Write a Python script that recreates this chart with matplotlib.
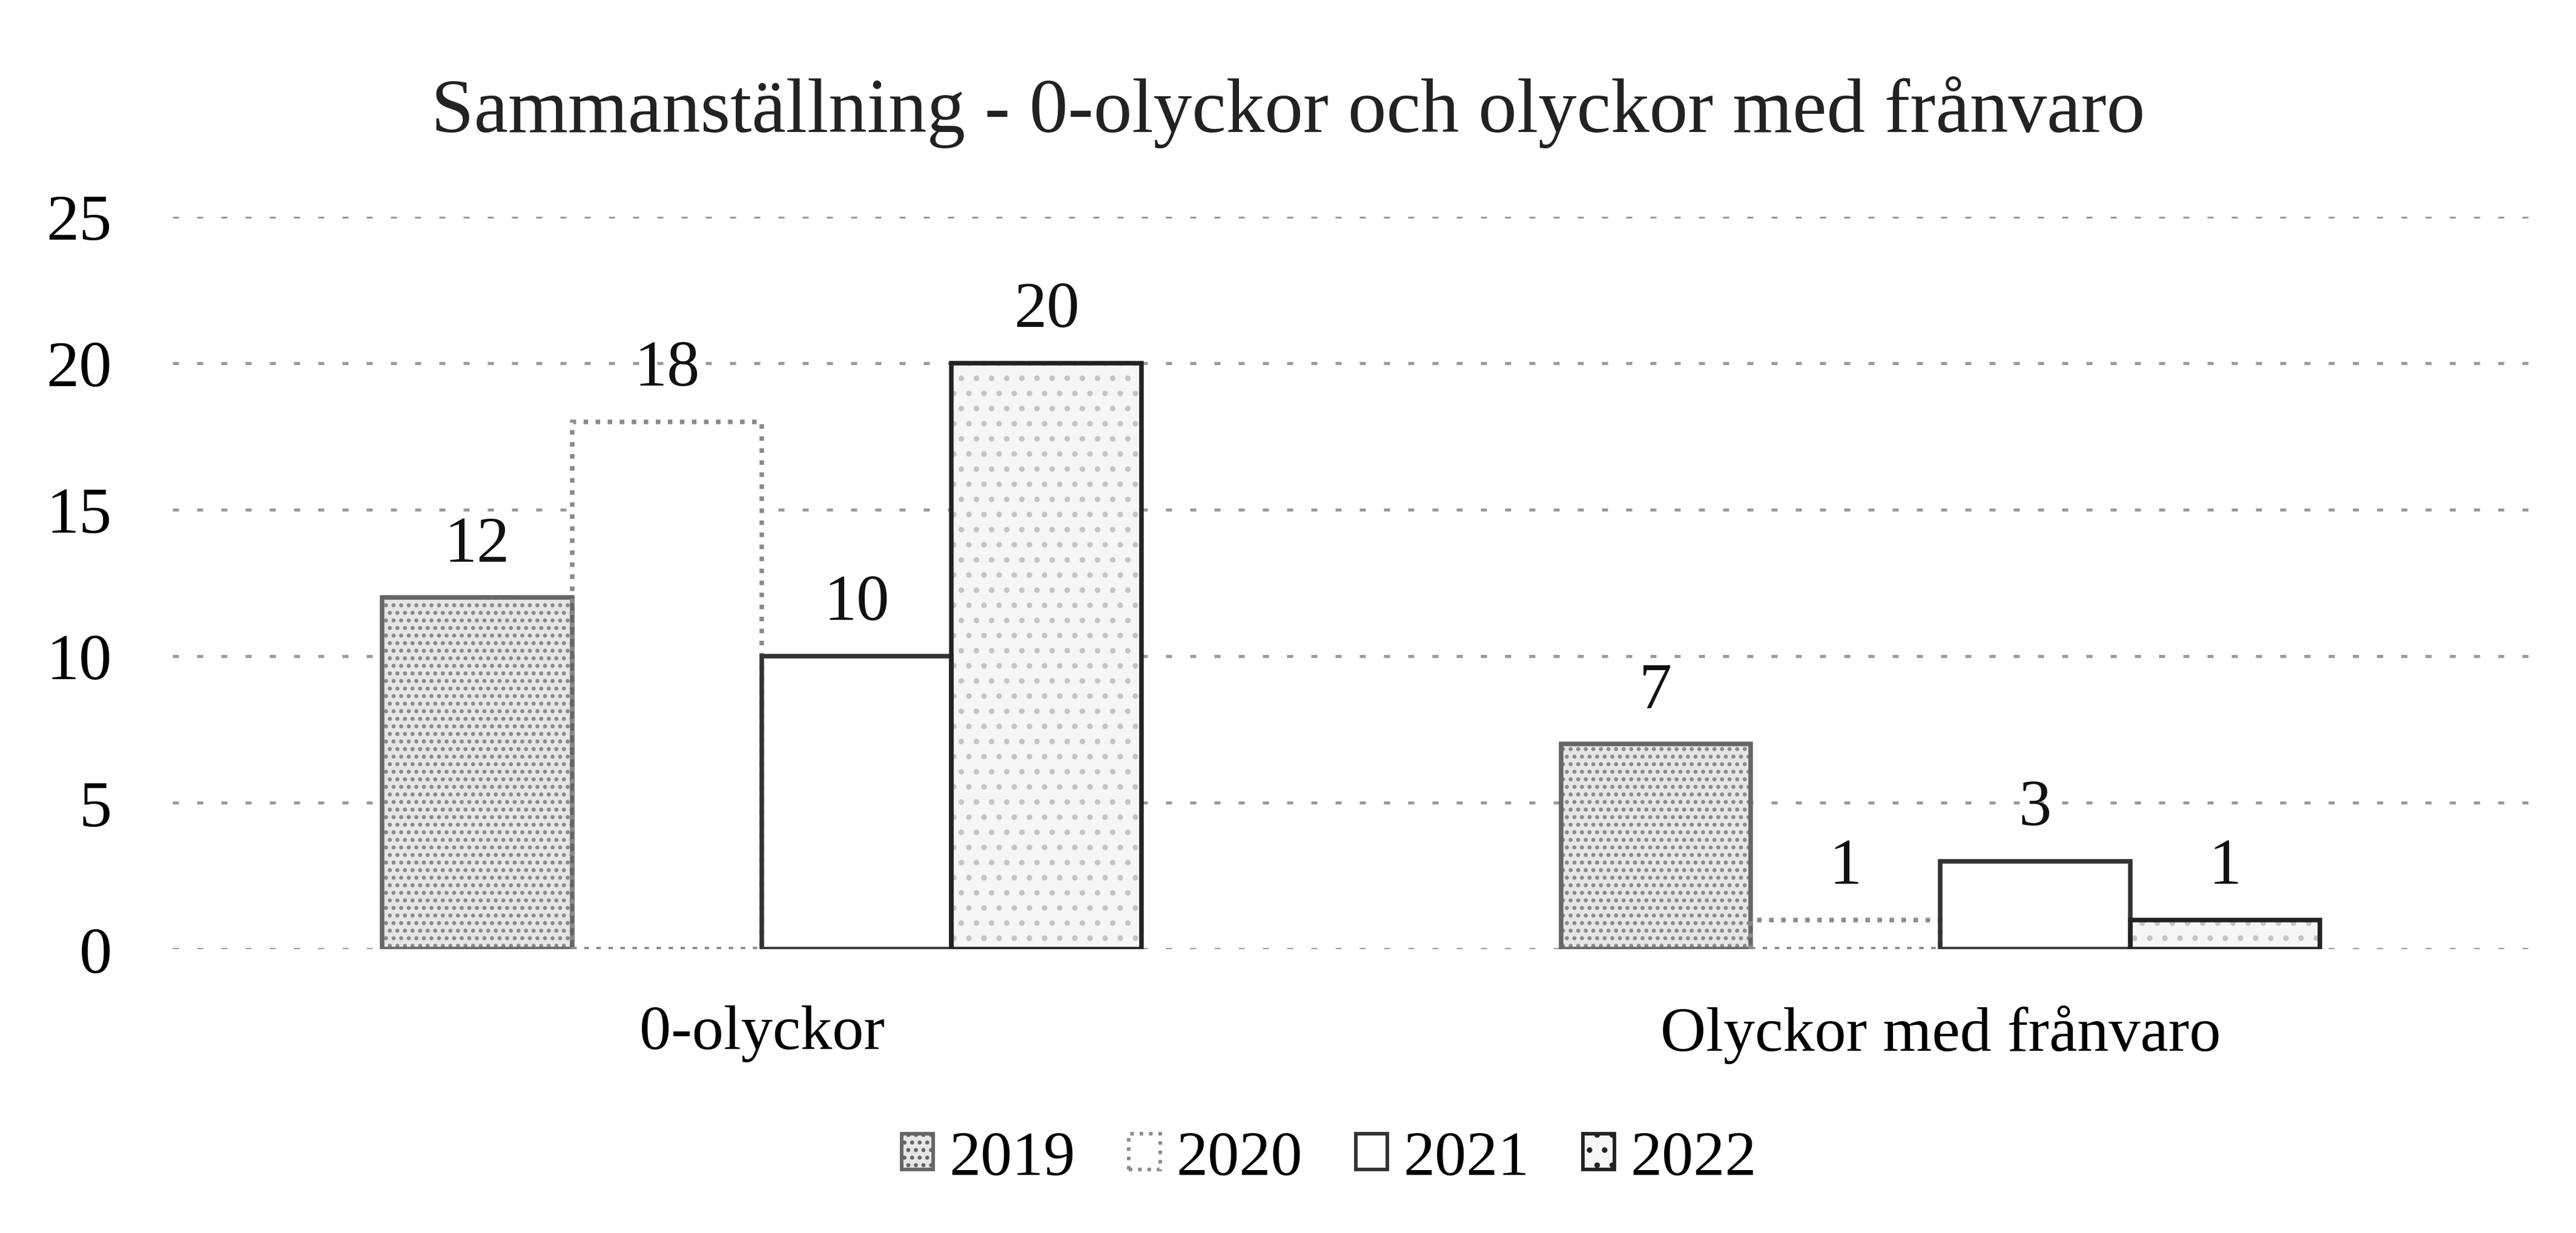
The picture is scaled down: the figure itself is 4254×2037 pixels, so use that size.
import matplotlib.pyplot as plt
import numpy as np

plt.rcParams['font.family'] = ['Liberation Serif', 'DejaVu Serif']

title = 'Sammanställning - 0-olyckor och olyckor med frånvaro'
categories = ['0-olyckor', 'Olyckor med frånvaro']
years = ['2019', '2020', '2021', '2022']
values = {
    '2019': [12, 7],
    '2020': [18, 1],
    '2021': [10, 3],
    '2022': [20, 1],
}

# look of each year (greyscale, scanned style)
faces = ['#e6e6e6', '#ffffff', '#ffffff', '#f6f6f6']
hatches = ['....', '', '', '..']
hatch_cols = ['#8a8a8a', '#ffffff', '#ffffff', '#c4c4c4']
edges = ['#666666', '#8a8a8a', '#333333', '#222222']
styles = ['-', ':', '-', '-']

fig = plt.figure(figsize=(14.18, 6.793), dpi=300)
ax = fig.add_axes([0.067, 0.230, 0.915, 0.594])

x = np.arange(len(categories))
w = 0.161
for i, yr in enumerate(years):
    pos = x + (i - 1.5) * w
    # fill with stipple first, outline on top
    ax.bar(pos, values[yr], w, color=faces[i], hatch=hatches[i],
           edgecolor=hatch_cols[i], linewidth=0, zorder=3)
    bars = ax.bar(pos, values[yr], w, fill=False, edgecolor=edges[i],
                  linewidth=1.8, linestyle=styles[i], zorder=4)
    for b, v in zip(bars, values[yr]):
        ax.annotate(str(v), (b.get_x() + b.get_width() / 2, v),
                    xytext=(0, 9), textcoords='offset points',
                    ha='center', va='bottom', fontsize=26, color='#111111')

ax.set_xlim(-0.5, 1.5)
ax.set_ylim(0, 25)
ax.set_yticks(range(0, 26, 5))
ax.set_xticks(x)
ax.set_xticklabels(categories, fontsize=25)
ax.tick_params(axis='y', length=0, pad=24, labelsize=26)
ax.tick_params(axis='x', length=0, pad=22)
ax.grid(axis='y', linestyle=(0, (2, 6)), color='#9a9a9a', linewidth=1.2, zorder=0)
for s in ax.spines.values():
    s.set_visible(False)

fig.suptitle(title, fontsize=30.5, y=0.938, x=0.5, color='#222222')

handles = [plt.Rectangle((0, 0), 1, 1, facecolor=faces[i], hatch=hatches[i],
                         edgecolor=edges[i], linewidth=1.4, linestyle=styles[i])
           for i in range(len(years))]
fig.legend(handles, years, loc='center', bbox_to_anchor=(0.516, 0.06), ncol=4,
           frameon=False, fontsize=25, handlelength=0.5, handleheight=0.5,
           handletextpad=0.25, columnspacing=0.85)

fig.savefig('out.png', dpi=300)
